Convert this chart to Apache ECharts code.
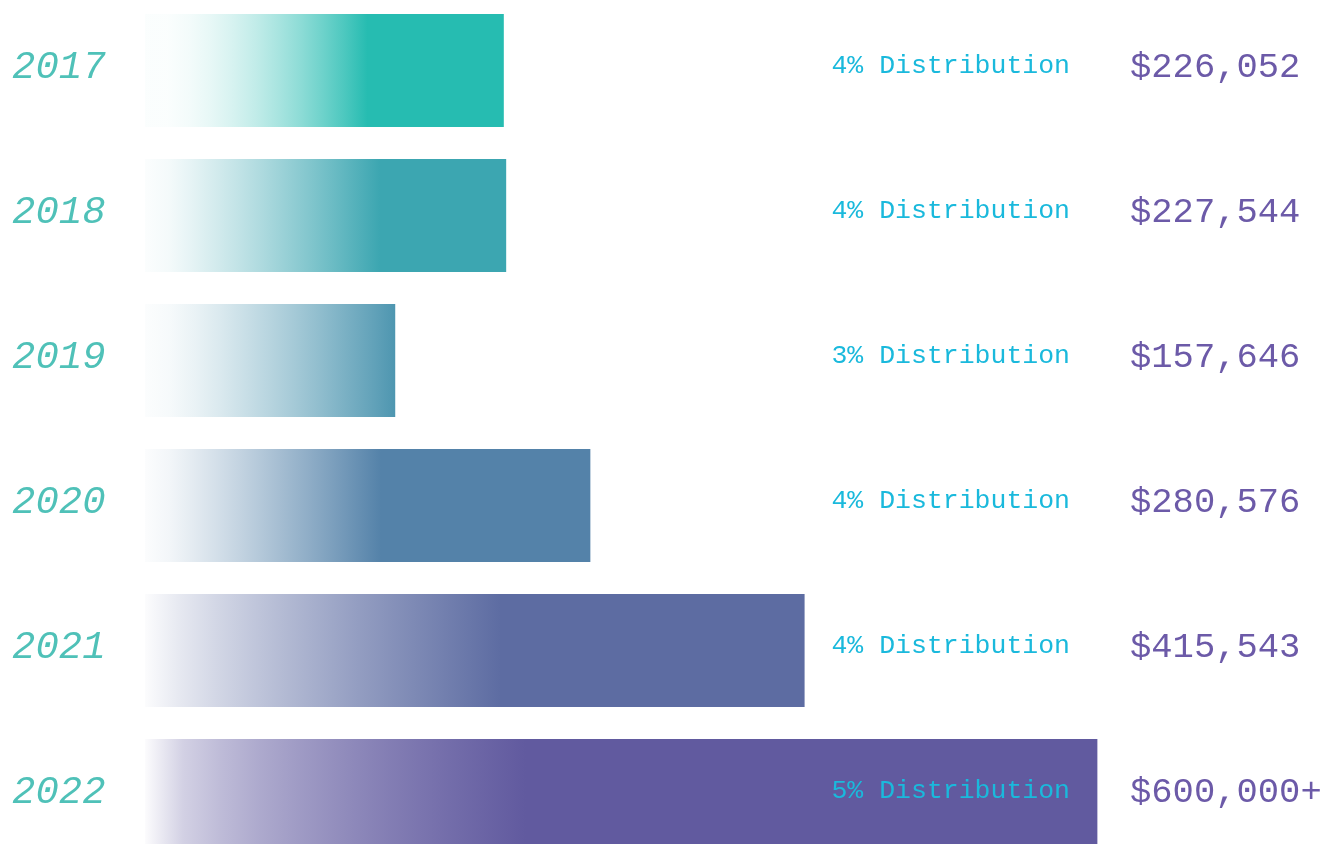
<!DOCTYPE html>
<html>
<head>
<meta charset="utf-8">
<script src="https://cdn.jsdelivr.net/npm/echarts@6/dist/echarts.min.js"></script>
<style>
  html, body { margin: 0; padding: 0; background: #ffffff; }
  #chart { width: 1329px; height: 844px; }
</style>
</head>
<body>
<div id="chart"></div>
<script>
// ---- data ----
const years = ['2017', '2018', '2019', '2020', '2021', '2022'];
const amounts = [226052, 227544, 157646, 280576, 415543, 600000];
const amountLabels = ['$226,052', '$227,544', '$157,646', '$280,576', '$415,543', '$600,000+'];
const distributionPct = ['4%', '4%', '3%', '4%', '4%', '5%'];

// ---- styles ----
const barColors = ['#26bcb1', '#3ca6b1', '#4e96b0', '#5482a9', '#5d6ca2', '#615a9f'];
const fadeEnds = [0.62, 0.65, 1.0, 0.53, 0.54, 0.40];
const fadeCurves = [1.8, 1.25, 1.3, 1.15, 0.8, 0.55];

function hexToRgba(hex, a) {
  const n = parseInt(hex.slice(1), 16);
  return 'rgba(' + ((n >> 16) & 255) + ',' + ((n >> 8) & 255) + ',' + (n & 255) + ',' + a.toFixed(3) + ')';
}

function fadeStops(hex, end, curve) {
  const stops = [];
  const steps = 10;
  for (let k = 0; k <= steps; k++) {
    const t = k / steps;
    stops.push({ offset: t * end, color: hexToRgba(hex, Math.max(0.02, Math.pow(t, curve))) });
  }
  if (end < 1) stops.push({ offset: 1, color: hexToRgba(hex, 1) });
  return stops;
}

const barData = amounts.map((v, i) => ({
  value: v,
  itemStyle: {
    color: new echarts.graphic.LinearGradient(0, 0, 1, 0, fadeStops(barColors[i], fadeEnds[i], fadeCurves[i]))
  }
}));

const chart = echarts.init(document.getElementById('chart'));
const mono = 'Liberation Mono';
const hidden = { axisLine: { show: false }, axisTick: { show: false }, splitLine: { show: false } };

function richLabel(style, lift) {
  return {
    formatter: v => '{t|' + v + '}',
    rich: { t: Object.assign({ padding: [0, 0, 2 * lift, 0], lineHeight: style.fontSize * 1.2 }, style) }
  };
}

chart.setOption({
  animation: false,
  backgroundColor: '#ffffff',
  grid: { left: 145, right: 259, top: -2, height: 870, outerBoundsMode: 'none', containLabel: false },
  xAxis: { type: 'value', min: 0, max: 582750, show: false },
  yAxis: [
    Object.assign({
      type: 'category', inverse: true, position: 'left', data: years, z: 10,
      axisLabel: Object.assign({ margin: 133, align: 'left' },
        richLabel({ color: '#4fc1b8', fontStyle: 'italic', fontFamily: mono, fontSize: 39 }, 3))
    }, hidden),
    Object.assign({
      type: 'category', inverse: true, position: 'right', z: 10,
      data: distributionPct.map(d => d + ' Distribution'),
      axisLabel: Object.assign({ margin: 0, align: 'right' },
        richLabel({ color: '#1ab9dc', fontFamily: mono, fontSize: 26.5 }, 5))
    }, hidden),
    Object.assign({
      type: 'category', inverse: true, position: 'right', offset: 0, z: 10,
      data: amountLabels,
      axisLabel: Object.assign({ margin: 60, align: 'left' },
        richLabel({ color: '#6c5aa8', fontFamily: mono, fontSize: 35.5 }, 3))
    }, hidden)
  ],
  series: [{
    type: 'bar',
    yAxisIndex: 0,
    barWidth: 113,
    clip: false,
    data: barData
  }]
});
</script>
</body>
</html>
